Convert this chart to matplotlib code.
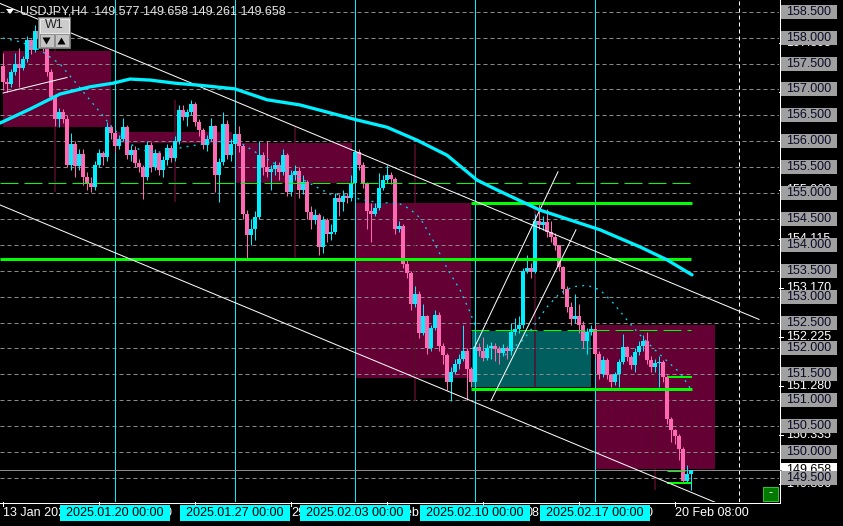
import matplotlib
matplotlib.use("Agg")
import matplotlib.pyplot as plt
from matplotlib.patches import Rectangle, Polygon

plt.rcParams['font.family'] = ['Liberation Sans', 'DejaVu Sans']

# ---------------- data: USDJPY H4, bar 0 = 13 Jan 2025 08:00 ----------------
first_open = 157.45
closes = [
    157.15, 157.10, 157.34, 157.50, 157.42, 157.58, 157.95, 157.77, 158.12, 158.00,
    157.82, 157.33, 156.85, 156.42, 156.57, 156.42, 155.55, 155.95, 155.52, 155.75,
    155.30, 155.20, 155.12, 155.55, 155.77, 155.69, 156.28, 156.15, 155.90, 156.05,
    156.28, 155.74, 155.83, 155.58, 155.50, 155.30, 155.93, 155.51, 155.77, 155.45,
    155.64, 155.87, 155.67, 156.00, 156.60, 156.47, 156.56, 156.72, 156.37, 156.21,
    155.92, 156.05, 156.30, 155.34, 155.60, 156.34, 155.73, 155.95, 156.14, 155.90,
    154.60, 154.18, 154.31, 154.54, 155.73, 155.50, 155.40, 155.46, 155.55, 155.40,
    155.74, 155.02, 155.34, 155.43, 155.05, 155.21, 154.63, 154.47, 154.57, 153.95,
    154.47, 154.20, 154.25, 154.90, 154.83, 154.95, 154.90, 155.20, 155.80, 155.55,
    155.19, 154.65, 154.60, 154.72, 155.10, 155.25, 155.35, 155.28, 154.30, 154.36,
    153.62, 153.45, 152.85, 153.05, 152.30, 152.62, 152.01, 152.40, 152.65, 152.05,
    151.88, 151.35, 151.55, 151.70, 151.80, 151.95, 151.60, 151.35, 152.03, 151.95,
    151.82, 152.00, 152.05, 151.98, 151.92, 152.00, 151.95, 152.32, 152.38, 152.45,
    153.50, 153.55, 153.48, 154.45, 154.38, 154.44, 154.25, 154.15, 153.99, 153.57,
    153.15, 152.80, 152.57, 152.62, 152.45, 152.15, 152.32, 152.38, 151.90, 151.50,
    151.78, 151.48, 151.35, 151.50, 151.73, 152.02, 151.83, 151.68, 151.93, 152.05,
    152.15, 151.78, 151.65, 151.72, 151.74, 151.45, 150.64, 150.42, 150.30, 150.06,
    149.45, 149.577, 149.658,
]
highs = [
    157.70, 157.22, 157.40, 157.70, 157.80, 157.65, 158.03, 157.98, 158.25, 158.22,
    158.08, 157.90, 157.40, 156.90, 156.65, 156.62, 156.50, 156.15, 156.00, 155.85,
    155.85, 155.40, 155.30, 155.62, 155.85, 155.82, 156.38, 156.32, 156.20, 156.12,
    156.45, 156.32, 155.92, 155.90, 155.66, 155.55, 156.00, 155.98, 155.85, 155.80,
    155.72, 155.95, 155.92, 156.10, 156.70, 156.70, 156.62, 156.80, 156.75, 156.42,
    156.25, 156.12, 156.45, 156.32, 155.68, 156.57, 156.40, 156.05, 156.22, 156.30,
    155.95, 154.68, 154.50, 154.65, 156.00, 155.80, 156.00, 155.55, 155.62, 155.60,
    155.85, 155.78, 155.45, 155.55, 155.50, 155.35, 155.25, 154.75, 154.70, 154.62,
    154.55, 154.52, 154.40, 155.00, 154.98, 155.05, 155.00, 155.35, 155.95, 155.85,
    155.60, 155.22, 154.80, 154.80, 155.38, 155.35, 155.55, 155.40, 155.30, 154.45,
    154.40, 153.70, 153.50, 153.20, 153.10, 152.85, 152.65, 152.45, 152.75, 152.70,
    152.10, 151.92, 151.65, 151.80, 151.90, 152.45, 152.00, 151.65, 152.40, 152.10,
    152.22, 152.08, 152.12, 152.10, 152.05, 152.08, 152.05, 152.50, 152.58, 152.62,
    153.55, 153.80, 153.65, 154.60, 154.78, 154.55, 154.70, 154.45, 154.22, 154.00,
    153.60, 153.20, 152.90, 153.05, 152.85, 152.52, 152.40, 152.45, 152.45, 151.95,
    151.85, 151.82, 151.50, 151.55, 151.80, 152.28, 152.05, 151.88, 152.00, 152.15,
    152.25, 152.32, 151.85, 151.80, 151.85, 151.78, 151.48, 150.68, 150.45, 150.35,
    150.10, 149.75, 149.658,
]
lows = [
    156.98, 156.95, 157.05, 157.28, 157.05, 157.38, 157.52, 157.68, 157.72, 157.90,
    157.75, 157.25, 156.80, 156.30, 156.28, 156.35, 155.50, 155.45, 155.30, 155.45,
    155.15, 155.05, 155.02, 155.05, 155.50, 155.55, 155.62, 156.05, 155.80, 155.85,
    156.00, 155.65, 155.62, 155.50, 155.40, 154.88, 155.25, 155.40, 155.45, 155.35,
    155.30, 155.55, 155.60, 155.62, 155.95, 156.40, 156.30, 156.50, 156.30, 156.10,
    155.85, 155.82, 156.00, 155.02, 154.83, 155.55, 155.65, 155.62, 155.85, 155.80,
    154.50, 153.73, 154.00, 154.10, 154.50, 155.35, 155.30, 155.05, 155.35, 155.25,
    155.35, 154.95, 154.95, 155.25, 154.90, 154.98, 154.50, 154.30, 154.40, 153.80,
    153.85, 154.05, 154.10, 154.20, 154.55, 154.65, 154.80, 154.85, 155.15, 155.45,
    155.10, 154.30, 154.05, 154.55, 154.68, 155.05, 155.20, 155.18, 154.20, 154.25,
    153.55, 153.35, 152.75, 152.80, 152.20, 152.25, 151.90, 151.95, 152.35, 151.95,
    151.70, 151.20, 150.98, 151.50, 151.60, 151.75, 151.00, 151.25, 151.22, 151.85,
    151.75, 151.78, 151.80, 151.75, 151.70, 151.85, 151.80, 151.88, 152.25, 152.30,
    152.40, 153.45, 153.35, 153.45, 154.30, 154.28, 154.15, 154.05, 153.90, 153.50,
    153.05, 152.70, 152.45, 152.50, 152.30, 152.00, 151.90, 152.25, 151.82, 151.40,
    151.45, 151.40, 151.25, 151.30, 151.25, 151.70, 151.75, 151.60, 151.55, 151.88,
    151.95, 151.70, 151.55, 151.55, 151.25, 151.35, 150.55, 150.20, 150.15, 149.85,
    149.40, 149.40, 149.261,
]
opens = [first_open] + closes[:-1]

# moving average (bar, price)
ma_bars = [-0.75, 6.75, 14.25, 21.75, 27.5, 31.75, 36.75, 43, 49.25, 58, 66, 74.25,
           88.5, 96, 103.5, 111, 118.5, 123.5, 134.25, 149.25, 159.25, 166, 172.25]
ma_vals = [156.35, 156.62, 156.91, 157.05, 157.12, 157.20, 157.18, 157.12, 157.08, 157.01,
           156.80, 156.70, 156.41, 156.27, 156.02, 155.73, 155.25, 155.06, 154.67, 154.29,
           153.96, 153.71, 153.42]

# dotted arcs (bar, price)
arc1_bars = [0, 4.25, 9.25, 14.25, 19.25, 24.25, 27.25, 30.5, 34.25, 39.25, 45.5, 51.75,
             58.75, 62.25, 65.5, 69.75, 74.25, 78.75, 81.75, 85.5, 89.25, 94.25, 98.75,
             101.75, 104.25, 107.5, 111, 114.25, 116.75, 118.25]
arc1_vals = [157.99, 157.92, 157.76, 157.49, 157.03, 156.56, 156.27, 156.02, 155.83, 155.79,
             155.89, 155.97, 156.00, 155.83, 155.68, 155.48, 155.29, 155.10, 154.98, 154.96,
             154.88, 154.81, 154.81, 154.69, 154.52, 154.09, 153.55, 153.13, 152.70, 152.39]
arc2_bars = [125.5, 126.75, 130, 132.5, 136, 139.25, 142.5, 146, 149.25, 152.5, 156,
             159.25, 163, 166.25, 169.25, 171.75]
arc2_vals = [151.87, 151.97, 152.16, 152.41, 152.80, 153.07, 153.19, 153.22, 153.13, 152.88,
             152.55, 152.26, 151.97, 151.74, 151.53, 151.24]

# chart objects
week_starts = [28, 58, 88, 118, 148]
week_labels = ["2025.01.20 00:00", "2025.01.27 00:00", "2025.02.03 00:00",
               "2025.02.10 00:00", "2025.02.17 00:00"]
time_ticks = [0, 24, 48, 72, 96, 120, 144, 168]
time_labels = ["13 Jan 2025 08:00", "17 Jan 08:00", "23 Jan 08:00", "29 Jan 08:00",
               "4 Feb 08:00", "10 Feb 08:00", "14 Feb 08:00", "20 Feb 08:00"]
grid_prices = [158.5, 158.0, 157.5, 157.0, 156.5, 156.0, 155.5, 155.0, 154.5, 154.0,
               153.5, 153.0, 152.5, 152.0, 151.5, 151.0, 150.5, 150.0, 149.5]
fib_prices = [157.895, 156.950, 156.005, 155.060, 154.115, 153.170, 152.225,
              151.280, 150.335, 149.390]
MAROON, TEAL = '#650035', '#005e5e'
boxes = [  # start bar, end bar, top, bottom, colour
    (-0.1, 27, 157.74, 156.27, MAROON),
    (28, 57.25, 156.18, 155.96, MAROON),
    (58, 87.25, 155.96, 155.19, MAROON),
    (88, 117, 154.81, 151.43, MAROON),
    (117.25, 147, 152.34, 151.25, TEAL),
    (148, 178, 152.45, 149.67, MAROON),
]
levels = [  # price, start bar, end bar, width px, dashed
    (155.19, -0.75, 172, 1, True),
    (153.72, -0.75, 172, 3, False),
    (154.80, 117, 172.25, 3, False),
    (152.35, 117, 172, 1, True),
    (151.21, 117, 172.25, 3, False),
    (151.455, 166.25, 172.25, 2, False),
    (149.41, 166, 172, 2, False),
    (149.63, 166, 170.5, 1, False),
]
trend_lines = [  # (bar, price) -> (bar, price)
    ((-0.75, 158.66), (189, 152.56)),
    ((-0.75, 154.77), (178, 149.03)),
    ((0, 156.93), (16, 157.23)),
    ((117.75, 152.00), (138.75, 155.41)),
    ((122, 150.99), (143.25, 154.29)),
]
future_line_bar = 184

# ---------------- layout ----------------
W, H = 843, 526
PLOT_W, PLOT_H = 779, 502
y_top, y_bot = 158.726, 149.035
x_left, x_right = -0.75, 194.0
PX = 0.72
CYAN = '#00f0ff'
PINK = '#ff69b4'

fig = plt.figure(figsize=(W / 100, H / 100), dpi=100, facecolor='black')
ax = fig.add_axes([0, 1 - PLOT_H / H, PLOT_W / W, PLOT_H / H])
ax.set_xlim(x_left, x_right)
ax.set_ylim(y_bot, y_top)
ax.set_axis_off()

for x0, x1, top, bot, col in boxes:
    ax.add_patch(Rectangle((x0, bot), x1 - x0, top - bot, fc=col, ec='none', zorder=0.5))

for p in grid_prices:
    ax.axhline(p, color='#8a8a8a', lw=PX, dashes=(4, 3), zorder=1)
ax.axvline(future_line_bar, color='white', lw=PX, dashes=(4, 3), zorder=1)

# weekly range lines at mid-week
for ws in [-2] + week_starts:
    a, b = max(ws, 0), min(ws + 30, len(closes))
    if a >= b:
        continue
    ax.vlines(ws + 15, min(lows[a:b]), max(highs[a:b]), color='#5a0c2c', lw=PX * 1.5, zorder=1.2)

for ws in week_starts:
    ax.axvline(ws, color=CYAN, lw=PX, zorder=1.5)

# candles
for i, (o, h, l, c) in enumerate(zip(opens, highs, lows, closes)):
    col = CYAN if c >= o else PINK
    ax.vlines(i, l, h, color=col, lw=PX, zorder=3)
    ax.bar(i, max(abs(c - o), 0.02), bottom=min(o, c), width=0.78, color=col,
           linewidth=0, zorder=3.1)

for p, x0, x1, w, dashed in levels:
    kw = dict(dashes=(18, 6)) if dashed else {}
    ax.plot([x0, x1], [p, p], color='#00ff00', lw=w * PX, zorder=4,
            solid_capstyle='butt', **kw)

ax.plot(arc1_bars, arc1_vals, color='#00d8f0', lw=PX * 1.3, dashes=(1.5, 4), zorder=4)
ax.plot(arc2_bars, arc2_vals, color='#00d8f0', lw=PX * 1.3, dashes=(1.5, 4), zorder=4)

for (xa, ya), (xb, yb) in trend_lines:
    ax.plot([xa, xb], [ya, yb], color='white', lw=PX, zorder=5)

ax.plot(ma_bars, ma_vals, color=CYAN, lw=3.3 * PX, zorder=5.5, solid_capstyle='round')

ax.axhline(closes[-1], color='#8c8c8c', lw=PX, zorder=2)

# ---------------- overlay in pixel units ----------------
ov = fig.add_axes([0, 0, 1, 1], zorder=10)
ov.set_xlim(0, W)
ov.set_ylim(H, 0)
ov.set_axis_off()
ov.patch.set_alpha(0)
renderer = fig.canvas.get_renderer()


def py(p):
    return (y_top - p) / (y_top - y_bot) * PLOT_H


def px(i):
    return (i - x_left) / (x_right - x_left) * PLOT_W


FS = 9

t0 = ov.text(0, 0, "|", fontsize=FS)
bar_w = t0.get_window_extent(renderer).width
t0.remove()


def text_w(s):
    if not s:
        return 0.0
    t = ov.text(0, 0, s + "|", fontsize=FS)
    w = t.get_window_extent(renderer).width
    t.remove()
    return w - bar_w


ov.plot([PLOT_W + 0.5, PLOT_W + 0.5], [0, PLOT_H + 0.5], color='white', lw=PX)
ov.plot([0, PLOT_W + 0.5], [PLOT_H + 0.5, PLOT_H + 0.5], color='white', lw=PX)
ov.plot([PLOT_W, PLOT_W + 2], [py(closes[-1])] * 2, color='#8c8c8c', lw=PX)

# right price scale: fib labels underneath, price boxes on top
for p in fib_prices:
    y = py(p)
    ov.plot([PLOT_W, PLOT_W + 4], [y] * 2, color='white', lw=PX, zorder=1)
    if min(abs(y - py(g)) for g in grid_prices) < 3:
        continue  # fully hidden behind a price box
    ov.text(786, y, f"{p:.3f}", color='white', fontsize=FS, va='center', ha='left', zorder=1)
yc = py(closes[-1])
ov.add_patch(Rectangle((781, yc - 7), 56, 14, fc='white', ec='none', zorder=1.5))
ov.text(809, yc, f"{closes[-1]:.3f}", color='black', fontsize=FS, va='center', ha='center',
        zorder=1.6)
for p in grid_prices:
    y = py(p)
    ov.add_patch(Rectangle((781, y - 7), 56, 14, fc='#a0a0a0', ec='none', zorder=2))
    ov.text(809, y, f"{p:.3f}", color='#0a0a28', fontsize=FS, va='center', ha='center', zorder=3)

# time scale: the week boxes sit on top of the date labels, so only the
# uncovered pieces of each date label are drawn
covers = [(px(ws) - 55, px(ws) + 55) for ws in week_starts]
for t, lab in zip(time_ticks, time_labels):
    x0 = px(t)
    ov.plot([x0, x0], [PLOT_H, PLOT_H + 4], color='white', lw=PX, zorder=1)
    piece, piece_x = "", None
    for k, ch in enumerate(lab):
        a = x0 + text_w(lab[:k])
        b = x0 + text_w(lab[:k + 1])
        hidden = any(c0 - 0.5 <= a and b <= c1 + 0.5 for c0, c1 in covers)
        if hidden:
            if piece.strip():
                ov.text(piece_x, 513, piece, color='white', fontsize=FS, va='center',
                        ha='left', zorder=1)
            piece, piece_x = "", None
        else:
            if piece_x is None:
                piece_x = a
            piece += ch
    if piece.strip():
        ov.text(piece_x, 513, piece, color='white', fontsize=FS, va='center', ha='left', zorder=1)
for ws, lab in zip(week_starts, week_labels):
    xc = px(ws)
    ov.add_patch(Rectangle((xc - 55, 505), 110, 15.5, fc='#00ffff', ec='none', zorder=2))
    ov.text(xc, 513, lab, color='black', fontsize=FS, va='center', ha='center', zorder=3)

# header
ov.add_patch(Polygon([(6, 9), (14, 9), (10, 14)], closed=True, fc='white', ec='none'))
header = "USDJPY,H4  {:.3f} {:.3f} {:.3f} {:.3f}".format(opens[-1], highs[-1], lows[-1], closes[-1])
ov.text(20, 12, header, color='#e6e6e6', fontsize=FS, va='center', ha='left')

# W1 button
ov.add_patch(Rectangle((38, 17), 32, 31, fc='#b8b8b8', ec='#707070', lw=PX))
ov.add_patch(Rectangle((39.5, 18.5), 29, 14, fc='#cccccc', ec='#e8e8e8', lw=PX))
ov.text(54, 25.5, "W1", color='#202020', fontsize=FS, va='center', ha='center')
ov.add_patch(Rectangle((39.5, 34), 14, 13, fc='#c4c4c4', ec='#909090', lw=PX))
ov.add_patch(Rectangle((54.5, 34), 14, 13, fc='#c4c4c4', ec='#909090', lw=PX))
ov.add_patch(Polygon([(42.5, 37.5), (50.5, 37.5), (46.5, 44.5)], closed=True, fc='black'))
ov.add_patch(Polygon([(57.5, 44.5), (65.5, 44.5), (61.5, 37.5)], closed=True, fc='black'))

# small green button bottom right
ov.add_patch(Rectangle((763, 487), 15, 14, fc='#007a00', ec='#30c030', lw=PX))
ov.text(770.5, 493.5, "-", color='white', fontsize=FS, va='center', ha='center')

fig.savefig("out.png", dpi=100, facecolor='black')
